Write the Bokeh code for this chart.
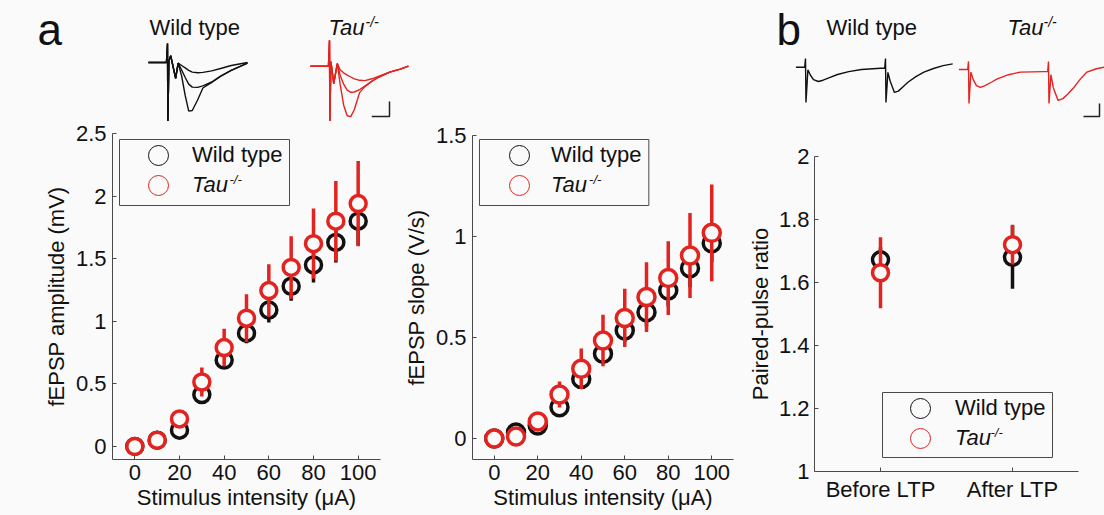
from bokeh.plotting import figure
from bokeh.layouts import row, column
from bokeh.models import Range1d, FixedTicker, Legend, LegendItem, BoxAnnotation, Label
from bokeh.embed import file_html
from bokeh.resources import INLINE

# ---------------- data ----------------
intensity = [0, 10, 20, 30, 40, 50, 60, 70, 80, 90, 100]

amp_wt = [0.0, 0.05, 0.13, 0.415, 0.69, 0.905, 1.09, 1.28, 1.45, 1.63, 1.80]
amp_wt_err = [0.0, 0.01, 0.02, 0.04, 0.06, 0.08, 0.10, 0.115, 0.14, 0.16, 0.195]
amp_tau = [0.0, 0.05, 0.22, 0.515, 0.79, 1.025, 1.245, 1.43, 1.62, 1.80, 1.94]
amp_tau_err = [0.0, 0.01, 0.03, 0.115, 0.15, 0.19, 0.21, 0.25, 0.28, 0.32, 0.34]

slope_wt = [0.0, 0.03, 0.064, 0.155, 0.295, 0.42, 0.535, 0.625, 0.733, 0.843, 0.967]
slope_wt_err = [0.0, 0.005, 0.01, 0.03, 0.04, 0.05, 0.06, 0.07, 0.08, 0.094, 0.094]
slope_tau = [0.0, 0.01, 0.084, 0.218, 0.345, 0.485, 0.597, 0.70, 0.794, 0.906, 1.018]
slope_tau_err = [0.0, 0.005, 0.015, 0.064, 0.10, 0.127, 0.144, 0.173, 0.183, 0.21, 0.24]

ppr_pos = [1, 2]
ppr_conditions = ["Before LTP", "After LTP"]
ppr_wt = [1.672, 1.680]
ppr_wt_err = [0.04, 0.10]
ppr_tau = [1.631, 1.720]
ppr_tau_err = [0.113, 0.063]

x_ticks = [0, 20, 40, 60, 80, 100]
x_tick_labels = ["0", "20", "40", "60", "80", "100"]
amp_ticks = [0, 0.5, 1, 1.5, 2, 2.5]
amp_tick_labels = ["0", "0.5", "1", "1.5", "2", "2.5"]
slope_ticks = [0, 0.5, 1, 1.5]
slope_tick_labels = ["0", "0.5", "1", "1.5"]
ppr_ticks = [1, 1.2, 1.4, 1.6, 1.8, 2]
ppr_tick_labels = ["1", "1.2", "1.4", "1.6", "1.8", "2"]

# example traces (time in ms from stimulus, voltage in mV from baseline)
wt_a_t = [-5.4, -0.3, 0.0, 0.1, 0.4, 0.9, 1.6, 2.3, 3.0, 4.0, 5.0, 6.0, 7.0, 8.5, 10.0, 12.5, 15.0, 18.0, 22.6]
wt_a_small = [0, 0, 0.63, -2.0, 0.05, 0.23, -0.15, -0.53, -0.02, -0.10, -0.18, -0.26, -0.32, -0.34, -0.33, -0.28, -0.20, -0.10, 0.0]
wt_a_mid = [0, 0, 0.63, -2.0, 0.05, 0.23, -0.15, -0.53, -0.02, -0.25, -0.50, -0.72, -0.82, -0.83, -0.78, -0.65, -0.45, -0.26, -0.02]
wt_a_large = [0, 0, 0.63, -2.0, 0.05, 0.23, -0.15, -0.53, -0.02, -0.45, -1.10, -1.62, -1.60, -1.25, -0.85, -0.66, -0.46, -0.26, -0.02]

tau_a_t = [-5.4, -0.3, 0.0, 0.1, 0.4, 1.2, 2.2, 3.0, 4.0, 5.0, 6.0, 7.0, 8.5, 10.0, 12.0, 14.0, 17.0, 20.0, 22.3]
tau_a_small = [0, 0, 0.86, -1.88, 0.15, -0.58, 0.09, -0.12, -0.22, -0.30, -0.36, -0.42, -0.47, -0.48, -0.42, -0.33, -0.20, -0.10, 0.0]
tau_a_mid = [0, 0, 0.86, -1.88, 0.15, -0.58, 0.09, -0.30, -0.60, -0.80, -0.87, -0.86, -0.78, -0.66, -0.50, -0.36, -0.20, -0.10, 0.0]
tau_a_large = [0, 0, 0.86, -1.88, 0.15, -0.58, 0.09, -0.60, -1.30, -1.65, -1.68, -1.45, -0.88, -0.68, -0.50, -0.36, -0.20, -0.10, 0.0]

wt_b_t = [-6, -0.5, 0, 0.3, 1.5, 3, 5, 8, 11, 15, 20, 27, 35, 47, 49.5, 50, 50.3, 51.5, 53, 55.6, 58, 61, 64, 69, 74, 80, 86, 92]
wt_b_v = [0, 0, 0.33, -1.36, -0.1, -0.3, -0.48, -0.55, -0.5, -0.4, -0.28, -0.17, -0.09, -0.04, -0.04, 0.33, -1.36, -0.2, -0.55, -0.97, -0.92, -0.75, -0.58, -0.36, -0.19, -0.05, 0.06, 0.13]
tau_b_t = [-6, -0.5, 0, 0.3, 1.5, 3, 5, 7.5, 10, 14, 18, 25, 32.5, 47, 49.5, 50, 50.3, 51.5, 53, 56, 59, 62, 66, 70, 74, 80, 85]
tau_b_v = [0, 0, 0.31, -1.31, -0.1, -0.4, -0.62, -0.69, -0.63, -0.5, -0.36, -0.2, -0.1, -0.08, -0.08, 0.31, -1.31, -0.2, -0.7, -1.19, -1.12, -0.95, -0.68, -0.36, -0.1, 0.03, 0.09]

scale_a = (5, 0.5)   # ms, mV
scale_b = (10, 0.5)  # ms, mV

# ---------------- styles ----------------
BG = "#fafafa"
BLACK = "#111111"
RED = "#e2231f"
AXC = "#4a4a4a"
FONT = "Liberation Sans"
TOP = 0
INSET_H = 121
MAIN_H = 394
MAIN_TOP = TOP + INSET_H
NAN = float("nan")
BASE_SHIFT = 0.36   # empirical correction of the label baseline (fraction of font size)


def base_style(p):
    p.background_fill_color = BG
    p.border_fill_color = BG
    p.outline_line_color = None
    p.grid.visible = False
    p.frame_align = False


def make_inset(width, left_px, stim_px, base_px, px_ms, px_mv):
    xr = Range1d((left_px - stim_px) / px_ms, (left_px + width - stim_px) / px_ms)
    yr = Range1d((base_px - (TOP + INSET_H)) / px_mv, (base_px - TOP) / px_mv)
    p = figure(width=width, height=INSET_H, x_range=xr, y_range=yr,
               x_axis_location=None, y_axis_location=None, min_border=0,
               output_backend="svg", toolbar_location=None, title=None)
    base_style(p)
    fx = lambda X: (X - stim_px) / px_ms
    fy = lambda Y: (base_px - Y) / px_mv
    return p, fx, fy


def add_text(p, fx, fy, X, Y, text, size, style="normal", color=BLACK):
    Yc = Y - BASE_SHIFT * size
    p.add_layout(Label(x=fx(X), y=fy(Yc), text=text, text_font=FONT, text_font_size=f"{size}px",
                       text_font_style=style, text_color=color, text_baseline="alphabetic",
                       text_align="left"))


def add_scale(p, fx, fy, X_end, Y_base, scale):
    xe, yb = fx(X_end), fy(Y_base)
    p.line(x=[xe - scale[0], xe, xe], y=[yb, yb, yb + scale[1]], line_color="#222222", line_width=1.5)


def make_main(width, left_img, bl, br, bt, bb, xr, yr, xt, xtl, yt, ytl, xlabel, ylabel):
    p = figure(width=width, height=MAIN_H, x_range=Range1d(*xr), y_range=Range1d(*yr),
               output_backend="svg", toolbar_location=None, title=None,
               min_border_left=bl, min_border_right=br, min_border_top=bt, min_border_bottom=bb)
    base_style(p)
    for ax in p.axis:
        ax.axis_line_color = AXC
        ax.axis_line_width = 1
        ax.major_tick_line_color = AXC
        ax.major_tick_in = 4
        ax.major_tick_out = 0
        ax.minor_tick_line_color = None
        ax.major_label_text_font = FONT
        ax.major_label_text_font_size = "22px"
        ax.major_label_text_color = BLACK
        ax.axis_label_text_font = FONT
        ax.axis_label_text_font_size = "22px"
        ax.axis_label_text_font_style = "normal"
        ax.axis_label_text_color = BLACK
    p.xaxis.ticker = FixedTicker(ticks=xt)
    p.xaxis.major_label_overrides = dict(zip(xt, xtl))
    p.xaxis.major_label_standoff = 5
    p.xaxis.axis_label_standoff = 2
    p.yaxis.ticker = FixedTicker(ticks=yt)
    p.yaxis.major_label_overrides = dict(zip(yt, ytl))
    p.yaxis.major_label_standoff = 6
    p.yaxis.axis_label_standoff = 4
    if xlabel:
        p.xaxis.axis_label = xlabel
    p.yaxis.axis_label = ylabel
    fl = left_img + bl
    fr = left_img + width - br
    ft = MAIN_TOP + bt
    fb = MAIN_TOP + MAIN_H - bb
    fx = lambda X: xr[0] + (X - fl) / (fr - fl) * (xr[1] - xr[0])
    fy = lambda Y: yr[1] - (Y - ft) / (fb - ft) * (yr[1] - yr[0])
    return p, fx, fy, fl, fb


def plot_series(p, x, y, err, color, size):
    lo = [v - e for v, e in zip(y, err)]
    hi = [v + e for v, e in zip(y, err)]
    p.segment(x0=x, y0=lo, x1=x, y1=hi, line_color=color, line_width=3.5)
    p.scatter(x=x, y=y, marker="circle", size=size, line_color=color, line_width=3.5, fill_color=BG)


def add_legend(p, fx, fy, fl, fb, cx, wy, ty, tx, box, sup):
    d_wt = p.scatter(x=[NAN], y=[NAN], marker="circle", size=20, line_color=BLACK, line_width=1, fill_color=None)
    d_tau = p.scatter(x=[NAN], y=[NAN], marker="circle", size=20, line_color=RED, line_width=1, fill_color=None)
    for rend, lab, yy, style in [(d_wt, "Wild type", wy, "normal"), (d_tau, "Tau", ty, "italic")]:
        leg = Legend(items=[LegendItem(label=lab, renderers=[rend])],
                     location=(cx - 25 - fl, fb - (yy + 25)),
                     glyph_width=50, glyph_height=50, padding=0, spacing=0, margin=0,
                     label_standoff=tx - (cx + 25), border_line_color=None,
                     background_fill_alpha=0, label_text_font=FONT, label_text_font_size="22px",
                     label_text_font_style=style, label_text_color=BLACK)
        p.add_layout(leg)
    p.add_layout(BoxAnnotation(left=fx(box[0]), right=fx(box[2]), top=fy(box[1]), bottom=fy(box[3]),
                               fill_alpha=0, fill_color=None, line_color=AXC, line_width=1, line_alpha=1))
    add_text(p, fx, fy, sup[0], sup[1], "-/-", 13, "italic")


# ---------------- insets ----------------
t1, f1x, f1y = make_inset(290, 0, 167, 62, 3.54, 30)
for v in (wt_a_small, wt_a_mid, wt_a_large):
    t1.line(x=wt_a_t, y=v, line_color=BLACK, line_width=1.4)
add_text(t1, f1x, f1y, 37, 45, "a", 44)
add_text(t1, f1x, f1y, 149, 35, "Wild type", 22)

t2, f2x, f2y = make_inset(480, 290, 329, 65.7, 3.54, 30)
for v in (tau_a_small, tau_a_mid, tau_a_large):
    t2.line(x=tau_a_t, y=v, line_color=RED, line_width=1.4)
add_text(t2, f2x, f2y, 328, 35, "Tau", 22, "italic")
add_text(t2, f2x, f2y, 365, 27, "-/-", 14, "italic")
add_scale(t2, f2x, f2y, 389, 116, scale_a)

t3, f3x, f3y = make_inset(185, 770, 805, 66.7, 1.6, 26)
t3.line(x=wt_b_t, y=wt_b_v, line_color=BLACK, line_width=1.4)
add_text(t3, f3x, f3y, 776, 45, "b", 44)
add_text(t3, f3x, f3y, 826, 35, "Wild type", 22)

t4, f4x, f4y = make_inset(149, 955, 968, 69, 1.6, 26)
t4.line(x=tau_b_t, y=tau_b_v, line_color=RED, line_width=1.4)
add_text(t4, f4x, f4y, 1007, 35, "Tau", 22, "italic")
add_text(t4, f4x, f4y, 1043, 27, "-/-", 14, "italic")
add_scale(t4, f4x, f4y, 1099, 116, scale_b)

# ---------------- main panels ----------------
m1, m1x, m1y, m1l, m1b = make_main(400, 0, 112, 20, 12, 56, (-10, 110), (-0.104, 2.5),
                                   x_ticks, x_tick_labels, amp_ticks, amp_tick_labels,
                                   "Stimulus intensity (\u03bcA)", "fEPSP amplitude (mV)")
plot_series(m1, intensity, amp_wt, amp_wt_err, BLACK, 16)
plot_series(m1, intensity, amp_tau, amp_tau_err, RED, 16)
add_legend(m1, m1x, m1y, m1l, m1b, 158, 155, 185, 192, (119, 139, 289, 205), (229, 184))

m2, m2x, m2y, m2l, m2b = make_main(342, 400, 71, 9, 14, 56, (-10, 110), (-0.104, 1.5),
                                   x_ticks, x_tick_labels, slope_ticks, slope_tick_labels,
                                   "Stimulus intensity (\u03bcA)", "fEPSP slope (V/s)")
plot_series(m2, intensity, slope_wt, slope_wt_err, BLACK, 17)
plot_series(m2, intensity, slope_tau, slope_tau_err, RED, 17)
add_legend(m2, m2x, m2y, m2l, m2b, 518, 155, 185, 550, (478, 139, 648, 205), (588, 184))

m3, m3x, m3y, m3l, m3b = make_main(362, 742, 72, 26, 35, 44, (0.5, 2.5), (1, 2),
                                   ppr_pos, ppr_conditions, ppr_ticks, ppr_tick_labels,
                                   None, "Paired-pulse ratio")
m3.yaxis.major_label_standoff = 5
m3.yaxis.axis_label_standoff = 3
plot_series(m3, ppr_pos, ppr_wt, ppr_wt_err, BLACK, 16)
plot_series(m3, ppr_pos, ppr_tau, ppr_tau_err, RED, 16)
add_legend(m3, m3x, m3y, m3l, m3b, 920, 408, 438, 955, (882, 392, 1052, 457), (990, 437))

bg_style = {"background-color": BG}
layout = column(row(t1, t2, t3, t4, spacing=0, styles=bg_style),
                row(m1, m2, m3, spacing=0, styles=bg_style),
                spacing=0, styles=bg_style)
open("out.html", "w").write(file_html(layout, INLINE))
